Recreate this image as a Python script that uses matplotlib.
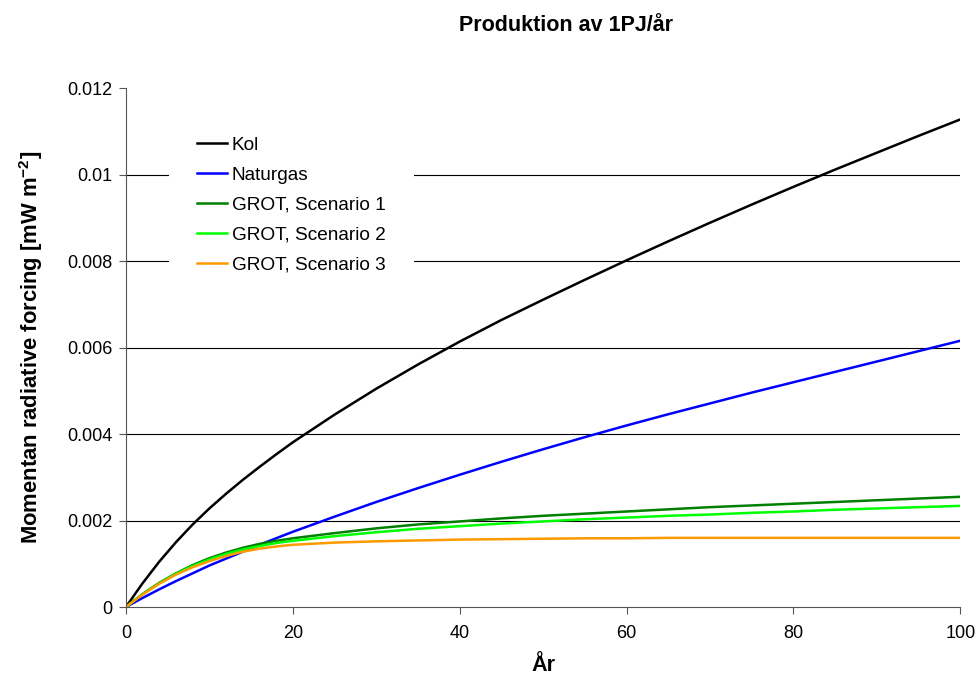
import matplotlib.pyplot as plt

plt.rcParams['font.family'] = ['Liberation Sans', 'DejaVu Sans']
plt.rcParams['mathtext.default'] = 'regular'

# År
years = [0, 2, 4, 6, 8, 10, 12, 14, 16, 18, 20, 25, 30, 35, 40, 45, 50, 55, 60,
         65, 70, 75, 80, 85, 90, 95, 100]

kol = [0, 0.00055, 0.00105, 0.0015, 0.00191, 0.00228, 0.00262, 0.00294, 0.00324, 0.00353, 0.00381,
       0.00445, 0.00505, 0.00561, 0.00614, 0.00664, 0.00711, 0.00757, 0.00802,
       0.00846, 0.00889, 0.00931, 0.00972, 0.01012, 0.01051, 0.0109, 0.01128]
naturgas = [0, 0.00021, 0.00041, 0.0006, 0.00078, 0.00096, 0.00112, 0.00128, 0.00144, 0.00159, 0.00174,
            0.00209, 0.00243, 0.00275, 0.00306, 0.00336, 0.00365, 0.00393, 0.0042,
            0.00446, 0.00471, 0.00496, 0.0052, 0.00544, 0.00568, 0.00592, 0.00616]
grot1 = [0, 0.0003, 0.00056, 0.00078, 0.00097, 0.00113, 0.00126, 0.00137, 0.00146, 0.00153, 0.00159,
         0.00171, 0.00182, 0.00191, 0.00198, 0.00205, 0.00211, 0.00216, 0.00221,
         0.00226, 0.00231, 0.00235, 0.00239, 0.00243, 0.00247, 0.00251, 0.00255]
grot2 = [0, 0.0003, 0.00055, 0.00077, 0.00095, 0.0011, 0.00123, 0.00133, 0.00141, 0.00148, 0.00153,
         0.00164, 0.00173, 0.00181, 0.00187, 0.00193, 0.00198, 0.00203, 0.00207,
         0.00211, 0.00214, 0.00218, 0.00221, 0.00225, 0.00228, 0.00231, 0.00234]
grot3 = [0, 0.00029, 0.00054, 0.00075, 0.00092, 0.00106, 0.00118, 0.00128, 0.00135, 0.0014, 0.00144,
         0.00149, 0.00152, 0.00154, 0.00156, 0.00157, 0.00158, 0.00159, 0.00159,
         0.0016, 0.0016, 0.0016, 0.0016, 0.0016, 0.0016, 0.0016, 0.0016]

series = [
    ('Kol', kol, '#000000'),
    ('Naturgas', naturgas, '#0000FF'),
    ('GROT, Scenario 1', grot1, '#008000'),
    ('GROT, Scenario 2', grot2, '#00FF00'),
    ('GROT, Scenario 3', grot3, '#FF9900'),
]

fig = plt.figure(figsize=(9.76, 6.79), dpi=100)
ax = fig.add_axes([0.129, 0.106, 0.855, 0.764])

for label, vals, col in series:
    ax.plot(years, vals, color=col, lw=1.8, label=label)

ax.set_xlim(0, 100)
ax.set_ylim(0, 0.012)
ax.set_xticks([0, 20, 40, 60, 80, 100])
ax.set_yticks([0, 0.002, 0.004, 0.006, 0.008, 0.01, 0.012])
ax.set_yticklabels(['0', '0.002', '0.004', '0.006', '0.008', '0.01', '0.012'])
for yv in [0.002, 0.004, 0.006, 0.008, 0.01]:
    ax.axhline(yv, color='black', lw=0.8, zorder=0)

ax.spines['top'].set_visible(False)
ax.spines['right'].set_visible(False)
ax.spines['left'].set_color('#555555')
ax.spines['bottom'].set_color('#555555')
ax.tick_params(direction='out', length=5, labelsize=13, color='#555555')
ax.tick_params(axis='y', pad=4.5)
ax.tick_params(axis='x', pad=8)

ax.set_xlabel('År', fontsize=15.5, fontweight='bold', labelpad=9)
ax.set_ylabel('Momentan radiative forcing [mW m$^{-2}$]', fontsize=15.8, fontweight='bold', labelpad=16)
fig.text(0.58, 0.962, 'Produktion av 1PJ/år', ha='center', va='center', fontsize=15.5, fontweight='bold')

leg = ax.legend(loc='upper left', bbox_to_anchor=(0.04, 0.981), fontsize=13.7, handlelength=1.55,
                handletextpad=0.25, labelspacing=0.67, frameon=True, fancybox=False, borderpad=1.5)
leg.get_frame().set_facecolor('white')
leg.get_frame().set_edgecolor('none')
leg.get_frame().set_alpha(1)

fig.savefig('out.png', dpi=100)
